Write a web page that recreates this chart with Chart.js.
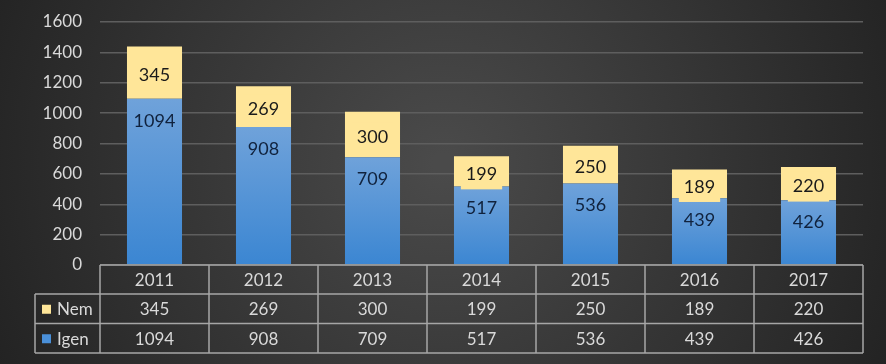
<!DOCTYPE html>
<html>
<head>
<meta charset="utf-8">
<script src="https://cdn.jsdelivr.net/npm/chart.js@4/dist/chart.umd.min.js"></script>
<style>
  body { margin: 0; background: #262626; }
  #wrap { width: 886px; height: 364px; }
</style>
</head>
<body>
<div id="wrap"><canvas id="barChart"></canvas></div>
<script>
var years = ['2011', '2012', '2013', '2014', '2015', '2016', '2017'];
var igen = [1094, 908, 709, 517, 536, 439, 426];
var nem = [345, 269, 300, 199, 250, 189, 220];
var yTicks = [0, 200, 400, 600, 800, 1000, 1200, 1400, 1600];

var FONT = 'Lato, "Open Sans", sans-serif';
var TEXT = '#d9d9d9';
var LINE = '#a6a6a6';
var YELLOW = '#ffe699';

var blueFill = function(ctx) {
    var chart = ctx.chart;
    var area = chart.chartArea;
    if (!area || ctx.dataIndex === undefined) return '#5b9bd5';
    var top = chart.scales.y.getPixelForValue(igen[ctx.dataIndex]);
    var g = chart.ctx.createLinearGradient(0, top, 0, area.bottom);
    g.addColorStop(0, '#6fa2da');
    g.addColorStop(1, '#3b86d2');
    return g;
};

var bgPlugin = {
    id: 'bg',
    beforeDraw: function(chart) {
        var c = chart.ctx, w = chart.width, h = chart.height;
        c.save();
        var g = c.createRadialGradient(w * 0.5, h * 0.45, 10, w * 0.5, h * 0.45, w * 0.62);
        g.addColorStop(0, '#4a4a4a');
        g.addColorStop(1, '#1e1e1e');
        c.fillStyle = g;
        c.fillRect(0, 0, w, h);
        c.restore();
    }
};

var labelPlugin = {
    id: 'barLabels',
    afterDatasetsDraw: function(chart) {
        var c = chart.ctx;
        c.save();
        c.font = '18px ' + FONT;
        c.textAlign = 'center';
        c.textBaseline = 'middle';
        chart.getDatasetMeta(0).data.forEach(function(bar, i) {
            c.fillStyle = '#10223d';
            c.fillText(igen[i], bar.x, bar.y + 22);
        });
        chart.getDatasetMeta(1).data.forEach(function(bar, i) {
            var y = (bar.y + bar.base) / 2 + 3;
            var tw = c.measureText(String(nem[i])).width + 10;
            // label box (shows as a notch when the segment is short)
            c.fillStyle = YELLOW;
            c.fillRect(bar.x - tw / 2, y - 15, tw, 30);
            c.fillStyle = '#1a1a1a';
            c.fillText(nem[i], bar.x, y);
        });
        c.restore();
    }
};

var tablePlugin = {
    id: 'dataTable',
    afterDraw: function(chart) {
        var c = chart.ctx;
        var area = chart.chartArea;
        var xs = chart.scales.x;
        var step = xs.getPixelForValue(1) - xs.getPixelForValue(0);
        var left = area.left, right = area.right;
        var r0 = area.bottom, r1 = r0 + 29, r2 = r1 + 29.5, r3 = r2 + 29.5;
        var legLeft = 35;
        c.save();
        c.strokeStyle = LINE;
        c.lineWidth = 1.5;
        c.beginPath();
        c.moveTo(left, r0); c.lineTo(right, r0);
        c.moveTo(legLeft, r1); c.lineTo(right, r1);
        c.moveTo(legLeft, r2); c.lineTo(right, r2);
        c.moveTo(legLeft, r3); c.lineTo(right, r3);
        c.moveTo(legLeft, r1); c.lineTo(legLeft, r3);
        for (var i = 0; i <= years.length; i++) {
            var x = left + i * step;
            c.moveTo(x, r0); c.lineTo(x, r3);
        }
        c.stroke();

        c.font = '17px ' + FONT;
        c.fillStyle = TEXT;
        c.textAlign = 'center';
        c.textBaseline = 'middle';
        years.forEach(function(y, i) {
            var x = xs.getPixelForValue(i);
            c.fillText(y, x, (r0 + r1) / 2 + 1);
            c.fillText(nem[i], x, (r1 + r2) / 2 + 1);
            c.fillText(igen[i], x, (r2 + r3) / 2 + 1);
        });
        c.textAlign = 'left';
        c.fillText('Nem', 57, (r1 + r2) / 2 + 1);
        c.fillText('Igen', 57, (r2 + r3) / 2 + 1);
        c.fillStyle = YELLOW;
        c.fillRect(42, (r1 + r2) / 2 - 4, 9, 9);
        c.fillStyle = '#4a90d9';
        c.fillRect(42, (r2 + r3) / 2 - 4, 9, 9);
        c.restore();
    }
};

var config = {
    type: 'bar',
    data: {
        labels: years,
        datasets: [{
            label: 'Igen',
            data: igen,
            backgroundColor: blueFill,
            categoryPercentage: 1,
            barPercentage: 0.505
        }, {
            label: 'Nem',
            data: nem,
            backgroundColor: YELLOW,
            categoryPercentage: 1,
            barPercentage: 0.505
        }]
    },
    options: {
        responsive: true,
        maintainAspectRatio: false,
        animation: false,
        layout: {
            padding: { top: 22, right: 23, bottom: 99, left: 0 }
        },
        plugins: {
            legend: { display: false },
            tooltip: { enabled: false }
        },
        scales: {
            x: {
                display: false,
                stacked: true
            },
            y: {
                stacked: true,
                min: 0,
                max: 1600,
                afterFit: function(s) {
                    s.width = 100;
                    s.paddingTop = 0;
                    s.paddingBottom = 0;
                },
                afterBuildTicks: function(s) {
                    s.ticks = yTicks.map(function(v) { return { value: v }; });
                },
                border: { display: false },
                grid: { color: '#5e5e5e', lineWidth: 1.5, drawTicks: false },
                ticks: {
                    color: TEXT,
                    padding: 18,
                    font: { family: FONT, size: 17 },
                    callback: function(v) { return String(v); }
                }
            }
        }
    },
    plugins: [bgPlugin, labelPlugin, tablePlugin]
};

window.onload = function() {
    var ctx = document.getElementById('barChart').getContext('2d');
    window.myBar = new Chart(ctx, config);
};
</script>
</body>
</html>
